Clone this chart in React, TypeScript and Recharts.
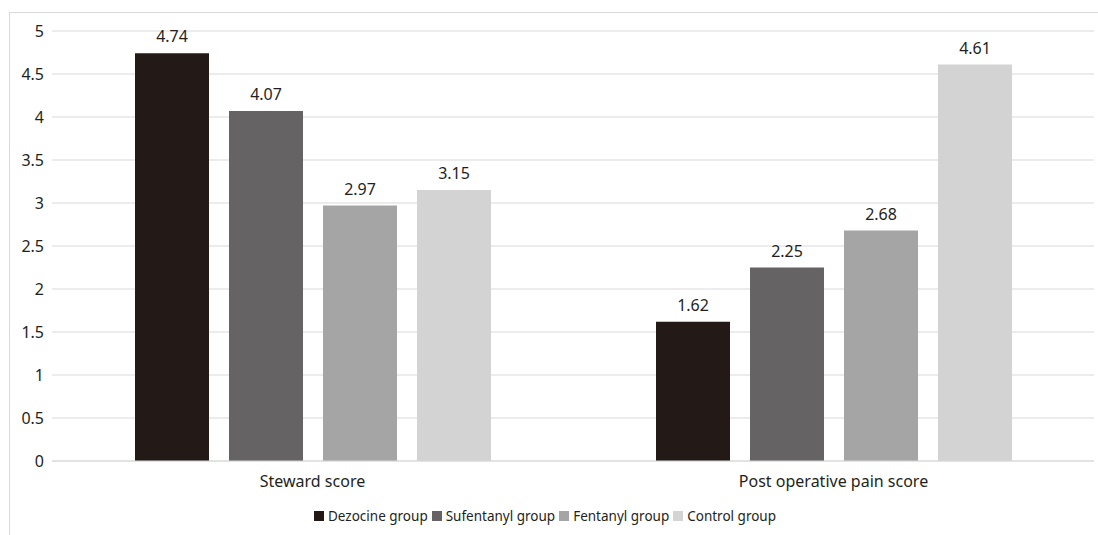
import React from "react";
import { BarChart, Bar, XAxis, YAxis, CartesianGrid, LabelList, Legend } from "recharts";

const categories = ["Steward score", "Post operative pain score"];
const dezocine = [4.74, 1.62];
const sufentanyl = [4.07, 2.25];
const fentanyl = [2.97, 2.68];
const control = [3.15, 4.61];
const yTicks = [0, 0.5, 1, 1.5, 2, 2.5, 3, 3.5, 4, 4.5, 5];

const seriesInfo = [
  { key: "dezocine", name: "Dezocine group", color: "#231a17" },
  { key: "sufentanyl", name: "Sufentanyl group", color: "#656363" },
  { key: "fentanyl", name: "Fentanyl group", color: "#a5a5a5" },
  { key: "control", name: "Control group", color: "#d3d3d3" },
];

const data = categories.map((c, i) => ({
  name: c,
  dezocine: dezocine[i],
  sufentanyl: sufentanyl[i],
  fentanyl: fentanyl[i],
  control: control[i],
}));

const FONT = "'Noto Sans', sans-serif";
const TEXT = "#231f20";

const LegendContent = () => (
  <div style={{ display: "flex", justifyContent: "center", alignItems: "center", fontFamily: FONT, fontSize: 13.5, color: TEXT, paddingTop: 6 }}>
    {seriesInfo.map((s) => (
      <span key={s.key} style={{ display: "inline-flex", alignItems: "center", marginRight: 4 }}>
        <span style={{ display: "inline-block", width: 10, height: 10, background: s.color, marginRight: 4 }} />
        {s.name}
      </span>
    ))}
  </div>
);

export default function App() {
  return (
    <div style={{ position: "absolute", left: 0, top: 0, width: 1098, height: 535, overflow: "hidden", background: "#fff" }}>
      <div style={{ position: "absolute", left: 9, top: 12, width: 1200, height: 700, border: "1px solid #d9d9d9" }} />
      <div style={{ position: "absolute", left: 0, top: 0 }}>
        <BarChart
          width={1098}
          height={535}
          data={data}
          margin={{ top: 31, right: 4, bottom: 0, left: 0 }}
          barGap={20}
          barSize={74}
        >
          <CartesianGrid horizontal vertical={false} stroke="#d9d9d9" strokeWidth={1} />
          <XAxis
            dataKey="name"
            axisLine={{ stroke: "#d9d9d9" }}
            tickLine={false}
            tickMargin={9}
            height={40}
            tick={{ fontFamily: FONT, fontSize: 16, fill: TEXT }}
          />
          <YAxis
            domain={[0, 5]}
            ticks={yTicks}
            interval={0}
            axisLine={false}
            tickLine={false}
            width={52}
            tick={{ fontFamily: FONT, fontSize: 16, fill: TEXT }}
          />
          <Legend verticalAlign="bottom" height={34} content={<LegendContent />} />
          {seriesInfo.map((s) => (
            <Bar key={s.key} dataKey={s.key} name={s.name} fill={s.color} isAnimationActive={false}>
              <LabelList dataKey={s.key} position="top" offset={11} style={{ fontFamily: FONT, fontSize: 16, fill: TEXT }} />
            </Bar>
          ))}
        </BarChart>
      </div>
    </div>
  );
}
